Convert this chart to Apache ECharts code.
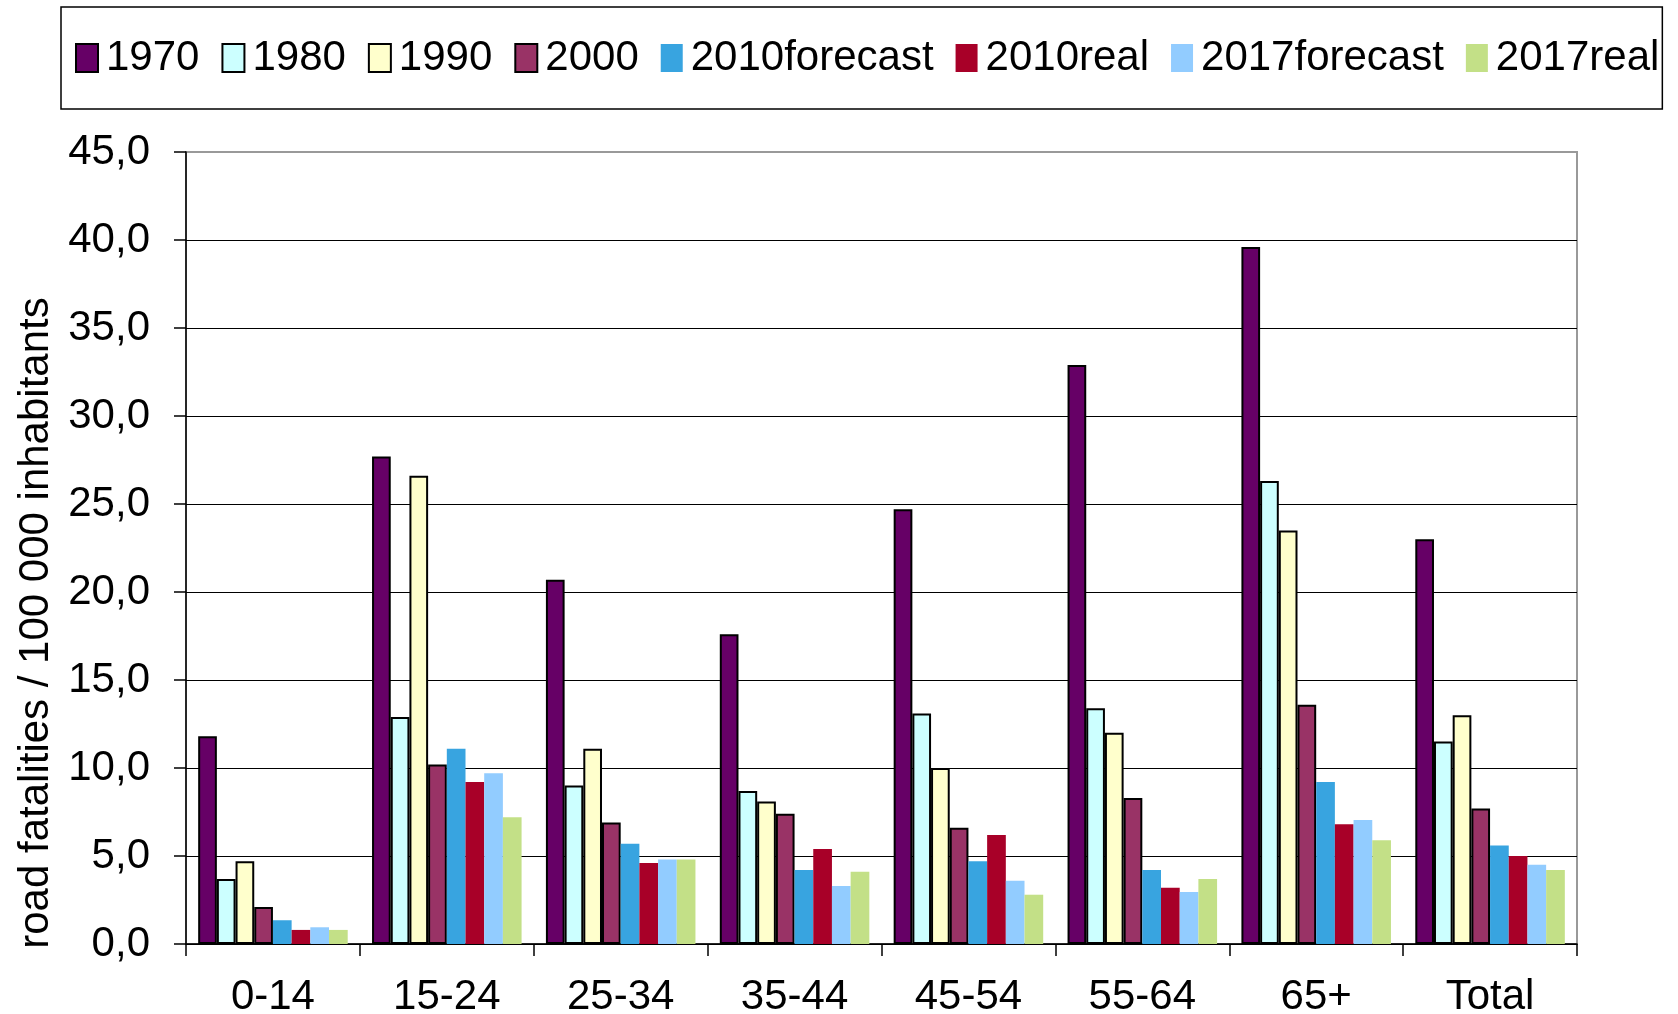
<!DOCTYPE html>
<html>
<head>
<meta charset="utf-8">
<title>road fatalities</title>
<script src="https://cdn.jsdelivr.net/npm/echarts@6/dist/echarts.min.js"></script>
<style>
	html, body { margin: 0; padding: 0; background: #fff; }
	#main { width: 1678px; height: 1014px; }
</style>
</head>
<body>
<div id="main"></div>
<script>
	var categories = ['0-14', '15-24', '25-34', '35-44', '45-54', '55-64', '65+', 'Total'];
	var yTicks = [0, 5, 10, 15, 20, 25, 30, 35, 40, 45];

	var v1970 = [11.8, 27.7, 20.7, 17.6, 24.7, 32.9, 39.6, 23.0];
	var v1980 = [3.7, 12.9, 9.0, 8.7, 13.1, 13.4, 26.3, 11.5];
	var v1990 = [4.7, 26.6, 11.1, 8.1, 10.0, 12.0, 23.5, 13.0];
	var v2000 = [2.1, 10.2, 6.9, 7.4, 6.6, 8.3, 13.6, 7.7];
	var v2010forecast = [1.35, 11.1, 5.7, 4.2, 4.7, 4.2, 9.2, 5.6];
	var v2010real = [0.8, 9.2, 4.6, 5.4, 6.2, 3.2, 6.8, 5.0];
	var v2017forecast = [0.95, 9.7, 4.8, 3.3, 3.6, 2.95, 7.05, 4.5];
	var v2017real = [0.8, 7.2, 4.8, 4.1, 2.8, 3.7, 5.9, 4.2];

	var fontName = 'Liberation Sans, Arial, sans-serif';

	function barSeries(name, data, color, outlined) {
		return {
			name: name,
			type: 'bar',
			data: data,
			barGap: '0%',
			barCategoryGap: '14%',
			itemStyle: {
				color: color,
				borderColor: outlined ? '#000' : color,
				borderWidth: outlined ? 2 : 0
			},
			emphasis: { disabled: true }
		};
	}

	var myChart = echarts.init(document.getElementById('main'));
	var option = {
		animation: false,
		backgroundColor: '#fff',
		textStyle: { fontFamily: fontName },
		legend: {
			left: 61,
			top: 7,
			padding: [30, 3, 30, 14],
			itemGap: 22,
			itemWidth: 22,
			itemHeight: 28,
			icon: 'rect',
			borderColor: '#000',
			borderWidth: 1.5,
			textStyle: {
				fontSize: 42,
				fontFamily: fontName,
				color: '#000',
				padding: [0, 0, 0, 3]
			}
		},
		grid: {
			left: 186,
			right: 101,
			top: 152,
			bottom: 70,
			containLabel: false,
			outerBoundsMode: 'none',
			show: true,
			borderColor: '#999',
			borderWidth: 2,
			backgroundColor: 'transparent'
		},
		xAxis: {
			type: 'category',
			data: categories,
			axisLine: { lineStyle: { color: '#000', width: 1.5 } },
			axisTick: { show: true, inside: false, length: 12, lineStyle: { color: '#000', width: 1.5 } },
			axisLabel: { fontSize: 42, color: '#000', margin: 32, fontFamily: fontName }
		},
		yAxis: {
			type: 'value',
			min: yTicks[0],
			max: yTicks[yTicks.length - 1],
			interval: 5,
			name: 'road fatalities / 100 000 inhabitants',
			nameLocation: 'middle',
			nameGap: 127,
			nameTextStyle: { fontSize: 42, color: '#000', fontFamily: fontName, padding: [0, 150, 0, 0] },
			axisLine: { show: true, lineStyle: { color: '#000', width: 1.5 } },
			axisTick: { show: true, inside: false, length: 12, lineStyle: { color: '#000', width: 1.5 } },
			axisLabel: {
				fontSize: 42,
				color: '#000',
				margin: 36,
				fontFamily: fontName,
				formatter: function (v) { return v.toFixed(1).replace('.', ','); }
			},
			splitLine: {
				show: true,
				// top line is the grey plot border
				lineStyle: { color: ['#000', '#000', '#000', '#000', '#000', '#000', '#000', '#000', '#000', '#999'], width: 1.2 }
			}
		},
		series: [
			barSeries('1970', v1970, '#660066', true),
			barSeries('1980', v1980, '#CCFFFF', true),
			barSeries('1990', v1990, '#FFFFCC', true),
			barSeries('2000', v2000, '#993366', true),
			barSeries('2010forecast', v2010forecast, '#38A4E0', false),
			barSeries('2010real', v2010real, '#A80028', false),
			barSeries('2017forecast', v2017forecast, '#92CCFF', false),
			barSeries('2017real', v2017real, '#C3E087', false)
		]
	};
	myChart.setOption(option);
</script>
</body>
</html>
